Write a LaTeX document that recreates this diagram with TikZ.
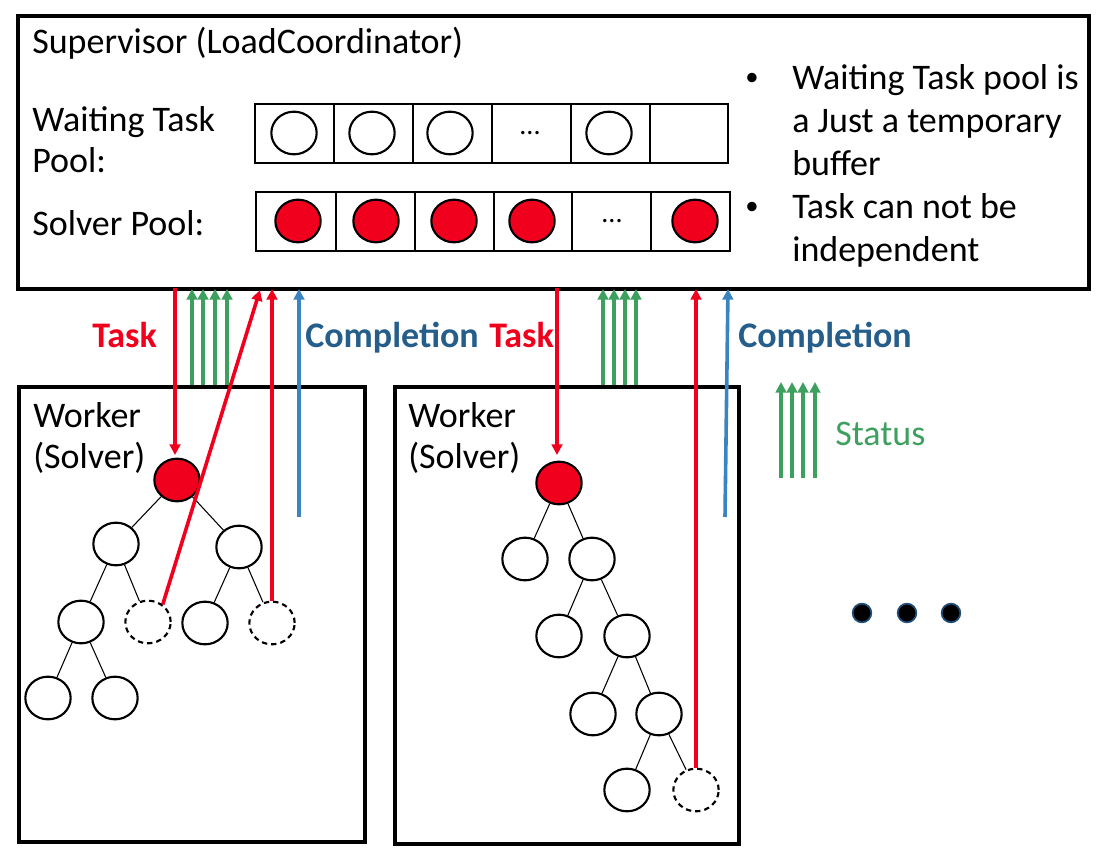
\documentclass[tikz,border=0pt]{standalone}
\usepackage{fontspec}
\setmainfont{Carlito}
\usetikzlibrary{arrows.meta,shapes.geometric}
\definecolor{tred}{RGB}{240,0,28}
\definecolor{tgreen}{RGB}{62,160,94}
\definecolor{tblue}{RGB}{58,132,193}
\definecolor{tdblue}{RGB}{37,94,138}
\definecolor{dotblue}{RGB}{31,78,121}
\begin{document}
\begin{tikzpicture}[x=0.75pt,y=-0.75pt,
  txt/.style={font=\fontsize{27}{32.5}\selectfont, inner sep=0, anchor=base west},
  btxt/.style={txt, font=\fontsize{27}{32.5}\selectfont\bfseries},
  bul/.style={font=\fontsize{20}{24}\selectfont, inner sep=0},
  bigbox/.style={draw, line width=3pt, rectangle, inner sep=0, anchor=north west},
  cellline/.style={line width=1.5pt},
  tnode/.style={ellipse, draw, line width=1.6pt, minimum width=34pt, minimum height=32pt, inner sep=0},
  rnode/.style={tnode, fill=tred},
  dnode/.style={tnode, dash pattern=on 4pt off 3pt},
  treeedge/.style={line width=0.8pt},
  arr/.style={line width=2.7pt, -{Triangle[width=8pt,length=8pt]}},
  redarr/.style={arr, tred},
  greenarr/.style={arr, tgreen},
  bluearr/.style={arr, tblue},
  bigdot/.style={circle, fill=black, draw=dotblue, line width=1.3pt, minimum size=14pt, inner sep=0},
  dots/.style={font=\fontsize{21}{24}\selectfont, inner sep=0}
]
\useasboundingbox (0,0) rectangle (1104,863);

% supervisor box
\node[bigbox, minimum width=803.25pt, minimum height=204.75pt] (sup) at (16,14) {};
\node[txt] (title) at (32,54) {Supervisor (LoadCoordinator)};
\node[txt] (wtp1) at (32,132) {Waiting Task};
\node[txt] (wtp2) at (32,173) {Pool:};
\node[txt] (sp) at (32,236) {Solver Pool:};

% waiting pool
\draw[cellline] (255,104) rectangle (728,163);
\foreach \x in {334,413,492,571,650} \draw[cellline] (\x,104) -- (\x,163);
\node[tnode] (w1) at (294,133) {};
\node[tnode] (w2) at (372,133) {};
\node[tnode] (w3) at (450,133) {};
\node[dots] (wd) at (530,133) {...};
\node[tnode] (w5) at (609,133) {};

% solver pool
\draw[cellline] (256,192) rectangle (730,251);
\foreach \x in {336,415,494,572,651} \draw[cellline] (\x,192) -- (\x,251);
\node[rnode] (s1) at (298,221) {};
\node[rnode] (s2) at (376,221) {};
\node[rnode] (s3) at (454,221) {};
\node[rnode] (s4) at (532,221) {};
\node[dots] (sd) at (612,221) {...};
\node[rnode] (s6) at (695,221) {};

% bullets
\node[bul] (b1) at (752,79) {•};
\node[txt] (l1) at (792,90) {Waiting Task pool is};
\node[txt] (l2) at (792,133) {a Just a temporary};
\node[txt] (l3) at (792,176) {buffer};
\node[bul] (b2) at (752,208) {•};
\node[txt] (l4) at (792,219) {Task can not be};
\node[txt] (l5) at (792,262) {independent};

% workers
\node[bigbox, minimum width=259.5pt, minimum height=341.25pt] (wk1) at (17,385) {};
\node[txt] (wk1a) at (33,427) {Worker};
\node[txt] (wk1b) at (33,468) {(Solver)};
\node[bigbox, minimum width=258pt, minimum height=342.75pt] (wk2) at (393,385) {};
\node[txt] (wk2a) at (408,427) {Worker};
\node[txt] (wk2b) at (408,468) {(Solver)};

% tree 1
\node[rnode] (a0) at (177,480) {};
\node[tnode] (a1) at (116,544) {};
\node[tnode] (a2) at (239,547) {};
\node[tnode] (a3) at (81,622) {};
\node[dnode] (a4) at (148,622) {};
\node[tnode] (a5) at (205,623) {};
\node[dnode] (a6) at (272,623) {};
\node[tnode] (a7) at (48,698) {};
\node[tnode] (a8) at (115,698) {};
\draw[treeedge] (a0) -- (a1);
\draw[treeedge] (a0) -- (a2);
\draw[treeedge] (a1) -- (a3);
\draw[treeedge] (a1) -- (a4);
\draw[treeedge] (a2) -- (a5);
\draw[treeedge] (a2) -- (a6);
\draw[treeedge] (a3) -- (a7);
\draw[treeedge] (a3) -- (a8);

% tree 2
\node[rnode] (c0) at (559,483) {};
\node[tnode] (c1) at (525,559) {};
\node[tnode] (c2) at (592,559) {};
\node[tnode] (c3) at (559,636) {};
\node[tnode] (c4) at (627,636) {};
\node[tnode] (c5) at (593,714) {};
\node[tnode] (c6) at (659,714) {};
\node[tnode] (c7) at (627,790) {};
\node[dnode] (c8) at (696,790) {};
\draw[treeedge] (c0) -- (c1);
\draw[treeedge] (c0) -- (c2);
\draw[treeedge] (c2) -- (c3);
\draw[treeedge] (c2) -- (c4);
\draw[treeedge] (c4) -- (c5);
\draw[treeedge] (c4) -- (c6);
\draw[treeedge] (c6) -- (c7);
\draw[treeedge] (c6) -- (c8);

% arrow end points
\coordinate (t1s) at (175,288);
\coordinate (t1e) at (175,455);
\coordinate (r1e) at (260,290);
\coordinate (r2e) at (272,289);
\coordinate (bl1s) at (299,517);
\coordinate (bl1e) at (299,289);
\coordinate (t2s) at (557,288);
\coordinate (t2e) at (557,455);
\coordinate (r3e) at (696,289);
\coordinate (bl2s) at (725,517);
\coordinate (bl2e) at (728,289);

\draw[redarr] (t1s) -- (t1e);
\draw[redarr] (a4.50) -- (r1e);
\draw[redarr] (a6.north) -- (r2e);
\draw[bluearr] (bl1s) -- (bl1e);
\draw[redarr] (t2s) -- (t2e);
\draw[redarr] (c8.north) -- (r3e);
\draw[bluearr] (bl2s) -- (bl2e);

\foreach \x [count=\i] in {192,203,215,227} {
  \coordinate (ga\i s) at (\x,385);
  \coordinate (ga\i e) at (\x,289);
  \draw[greenarr] (ga\i s) -- (ga\i e);
}
\foreach \x [count=\i] in {603,614,625,636} {
  \coordinate (gb\i s) at (\x,385);
  \coordinate (gb\i e) at (\x,289);
  \draw[greenarr] (gb\i s) -- (gb\i e);
}
\foreach \x [count=\i] in {781,792,803,815} {
  \coordinate (gc\i s) at (\x,478);
  \coordinate (gc\i e) at (\x,382);
  \draw[greenarr] (gc\i s) -- (gc\i e);
}

% labels
\node[btxt, text=tred] (task1) at (92,347) {Task};
\node[btxt, text=tdblue] (comp1) at (305,347) {Completion};
\node[btxt, text=tred] (task2) at (489,347) {Task};
\node[btxt, text=tdblue] (comp2) at (738,347) {Completion};
\node[txt, text=tgreen] (status) at (835,445) {Status};

% ellipsis dots
\node[bigdot] (d1) at (862,613) {};
\node[bigdot] (d2) at (907,613) {};
\node[bigdot] (d3) at (951,613) {};
\end{tikzpicture}
\end{document}
